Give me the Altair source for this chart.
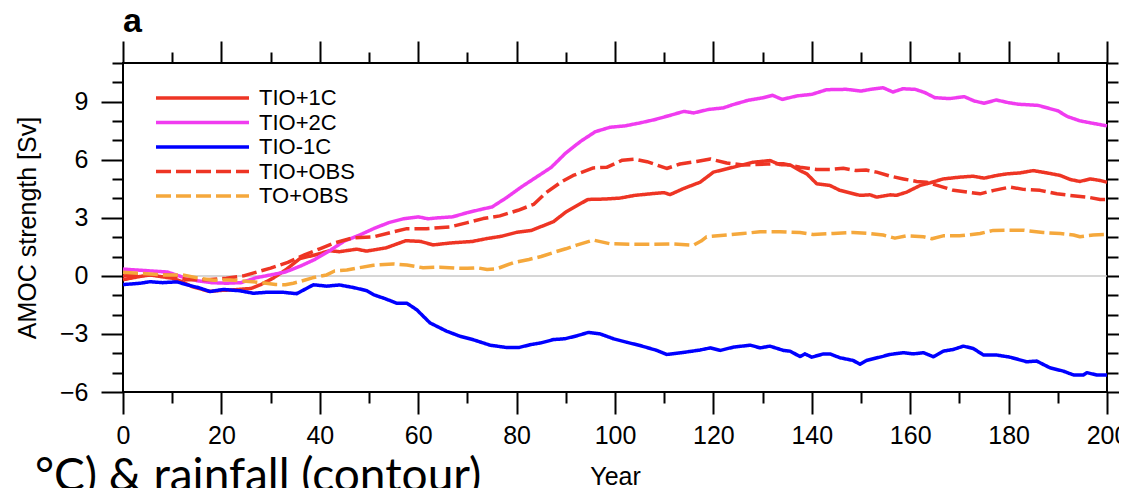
import altair as alt
import pandas as pd

# ---------------- data ----------------
series_names = ["TIO+1C", "TIO+2C", "TIO-1C", "TIO+OBS", "TO+OBS"]
series_colors = ["#EE3524", "#F03CF0", "#0000FF", "#EE3524", "#F5A83C"]
series_dash = [[1, 0], [1, 0], [1, 0], [15, 5], [15, 5]]

tio1c_year = [0, 3, 5.5, 8, 10, 12, 14, 17.5, 20, 22.5, 26, 28, 30.5, 33, 36, 39, 42, 44, 47.5, 49.5,
              53.5, 57.5, 60.5, 63, 66.5, 71, 74, 77, 80, 83, 85.5, 87.5, 90, 94.5, 98, 101, 104, 108,
              110, 111.2, 114, 117.3, 120, 122.7, 125.4, 128, 131.5, 133.5, 135.6, 137.6, 139, 141,
              143.7, 145.7, 149.8, 151.8, 153.2, 156, 157.2, 159.3, 162, 163.4, 166.7, 170, 172.8, 175,
              177.6, 179.6, 182.3, 185, 187.8, 190.5, 192.5, 194.5, 196.6, 198.6, 200]
tio1c_val = [-0.2, -0.05, 0.05, -0.05, -0.12, -0.3, -0.55, -0.8, -0.75, -0.72, -0.65, -0.45, -0.12, 0.3,
             0.9, 1.08, 1.3, 1.25, 1.38, 1.28, 1.45, 1.82, 1.78, 1.6, 1.7, 1.78, 1.93, 2.05, 2.25, 2.35,
             2.6, 2.8, 3.3, 3.95, 3.97, 4.02, 4.16, 4.26, 4.3, 4.2, 4.52, 4.84, 5.36, 5.53, 5.7, 5.87,
             5.96, 5.75, 5.73, 5.44, 5.27, 4.76, 4.67, 4.42, 4.16, 4.19, 4.07, 4.19, 4.16, 4.33, 4.67,
             4.76, 5.01, 5.1, 5.15, 5.05, 5.19, 5.27, 5.32, 5.44, 5.32, 5.19, 4.98, 4.88, 5.01, 4.93, 4.84]

tio2c_year = [0, 3, 6, 9, 12, 15, 18, 21, 24, 27, 30, 33, 36, 39, 42, 45, 48, 51, 54, 57, 60, 62, 64, 67,
              70, 73, 75, 78, 81, 84, 87, 90, 93, 96, 99, 102, 105, 108, 111, 114, 116, 119, 122, 124,
              127, 130, 132, 134, 137, 140, 143, 147, 150, 152, 154.5, 156.5, 158.5, 161, 163, 165, 168,
              171, 173, 175, 177.5, 180, 182, 186, 190, 192, 194.5, 197, 200]
tio2c_val = [0.35, 0.3, 0.25, 0.2, -0.05, -0.25, -0.35, -0.38, -0.35, -0.1, 0.05, 0.2, 0.5, 0.85, 1.3,
             1.8, 2.1, 2.45, 2.75, 2.95, 3.05, 2.95, 3.0, 3.05, 3.27, 3.45, 3.56, 4.05, 4.6, 5.1, 5.6,
             6.35, 6.95, 7.45, 7.68, 7.75, 7.9, 8.07, 8.28, 8.5, 8.42, 8.6, 8.68, 8.85, 9.07, 9.2, 9.33,
             9.12, 9.3, 9.38, 9.62, 9.64, 9.55, 9.64, 9.72, 9.5, 9.67, 9.64, 9.47, 9.21, 9.16, 9.26,
             9.04, 8.92, 9.09, 8.95, 8.87, 8.81, 8.53, 8.23, 8.01, 7.89, 7.75]

tiom1c_year = [0, 3.5, 5.5, 8, 11, 13, 15.5, 17.7, 20.4, 23.8, 26.5, 29, 32.6, 35.3, 38.7, 41.4, 44,
               46.8, 49.5, 51, 53.3, 55.6, 57.7, 59.7, 62.4, 65.8, 68.5, 71.2, 74.6, 77.9, 80.5, 82.7,
               85, 87.5, 89.8, 92.2, 94.6, 97, 99.7, 102.4, 105.1, 108.5, 110.5, 113.5, 117.3, 119.4,
               121.4, 124.1, 127.5, 129.5, 131.5, 134.2, 135.6, 137.6, 138.6, 140, 142.4, 143.7, 145.7,
               148.4, 149.8, 151.1, 153.8, 155.9, 158.6, 160.6, 162.7, 164.7, 166.7, 168.8, 170.8,
               172.8, 174.9, 177.6, 180.3, 183.7, 185.7, 188.4, 191.1, 193.2, 195.2, 195.9, 197.9, 200]
tiom1c_val = [-0.45, -0.38, -0.3, -0.35, -0.31, -0.46, -0.62, -0.81, -0.7, -0.77, -0.9, -0.85, -0.85,
              -0.92, -0.46, -0.53, -0.47, -0.6, -0.76, -0.98, -1.18, -1.41, -1.41, -1.75, -2.43, -2.86,
              -3.12, -3.3, -3.58, -3.7, -3.7, -3.56, -3.46, -3.29, -3.25, -3.1, -2.92, -3.0, -3.25,
              -3.43, -3.6, -3.85, -4.06, -3.97, -3.83, -3.72, -3.85, -3.68, -3.58, -3.72, -3.63, -3.85,
              -3.89, -4.17, -4.03, -4.2, -4.03, -4.03, -4.23, -4.37, -4.57, -4.37, -4.2, -4.06, -3.97,
              -4.03, -3.97, -4.18, -3.89, -3.8, -3.63, -3.75, -4.09, -4.09, -4.2, -4.44, -4.4, -4.75,
              -4.92, -5.12, -5.12, -5.0, -5.12, -5.12]

tioobs_year = [0, 3.5, 9.5, 13, 17, 21, 24.5, 27.5, 30, 33.5, 37, 40, 43, 46.8, 51, 55, 57.7, 61.7,
               66.5, 70, 73.2, 76.6, 80.3, 83.5, 86, 89, 91.5, 95.6, 98.3, 101.5, 104, 106.5, 108.5,
               110.5, 113.2, 116.6, 119.4, 122.7, 126, 131, 134.2, 137.6, 141, 143.7, 146.4, 149, 151,
               153.2, 156, 158.6, 161.3, 163.3, 166, 168.8, 171.5, 174.2, 177, 180.3, 183, 186.4,
               189.8, 192.5, 196, 198.6, 200]
tioobs_val = [0.0, 0.05, 0.05, -0.2, -0.2, -0.12, 0.0, 0.22, 0.4, 0.7, 1.1, 1.4, 1.7, 1.97, 2.02, 2.28,
              2.44, 2.44, 2.53, 2.75, 2.96, 3.1, 3.39, 3.7, 4.3, 4.84, 5.19, 5.58, 5.61, 5.98, 6.03,
              5.9, 5.73, 5.55, 5.78, 5.91, 6.04, 5.83, 5.73, 5.78, 5.8, 5.61, 5.5, 5.5, 5.56, 5.44,
              5.47, 5.36, 5.15, 5.01, 4.88, 4.84, 4.64, 4.42, 4.33, 4.24, 4.42, 4.59, 4.47, 4.42,
              4.24, 4.16, 4.07, 3.95, 3.95]

toobs_year = [0, 3.5, 8, 12, 15.5, 18.4, 21.7, 24, 27.5, 31, 33, 34.6, 36, 38.5, 41.4, 43, 45.5, 47.5,
              50.9, 54.9, 57.7, 61, 64.4, 67.8, 70, 72, 74, 76, 79.3, 82.5, 85, 88, 90, 92.2, 95.6, 99,
              103, 107.5, 111.5, 116, 117.5, 118.6, 122.7, 126, 129.5, 133.5, 137.6, 140.3, 144.4,
              148.4, 151.8, 154.5, 156.9, 159.3, 162.7, 164.4, 166.7, 170, 174.2, 176.9, 183, 187,
              190.5, 193.2, 194.5, 197.2, 200]
toobs_val = [0.19, 0.13, 0.05, 0.05, -0.12, -0.23, -0.21, -0.26, -0.33, -0.45, -0.46, -0.38, -0.29,
             -0.1, 0.05, 0.25, 0.3, 0.4, 0.55, 0.62, 0.56, 0.42, 0.45, 0.4, 0.39, 0.42, 0.33, 0.37,
             0.68, 0.85, 1.0, 1.25, 1.4, 1.59, 1.85, 1.66, 1.64, 1.63, 1.65, 1.59, 1.8, 2.02, 2.11,
             2.19, 2.28, 2.28, 2.24, 2.14, 2.19, 2.24, 2.19, 2.11, 1.95, 2.07, 2.02, 1.92, 2.07, 2.07,
             2.19, 2.35, 2.36, 2.24, 2.19, 2.11, 2.02, 2.11, 2.15]

x_major = list(range(0, 201, 20))
x_minor = list(range(10, 200, 20))
y_major = [-6, -3, 0, 3, 6, 9]
y_minor = [v for v in range(-6, 12) if v % 3 != 0]

caption_fragment = "°C) & rainfall (contour)"

# ---------------- build table ----------------
rows = []
for name, ys, vs in zip(series_names,
                        [tio1c_year, tio2c_year, tiom1c_year, tioobs_year, toobs_year],
                        [tio1c_val, tio2c_val, tiom1c_val, tioobs_val, toobs_val]):
    assert len(ys) == len(vs), name
    for yr, v in zip(ys, vs):
        rows.append({"series": name, "year": yr, "value": v})
df = pd.DataFrame(rows)

FONT = "Liberation Sans"
xscale = alt.Scale(domain=[0, 200], nice=False, zero=False)
yscale = alt.Scale(domain=[-6, 11], nice=False, zero=False)


def axis(orient, values, size, labels=False, title=None, **kw):
    return alt.Axis(orient=orient, values=values, tickSize=size, tickWidth=2, tickColor="black",
                    labels=labels, labelFlush=False, domain=False, grid=False, title=title, **kw)


legend = alt.Legend(orient="none", legendX=31, legendY=23, title=None,
                    symbolType="M-1,0H8.3", symbolSize=400, symbolStrokeWidth=3.5,
                    labelFont=FONT, labelFontSize=22, labelColor="black",
                    labelOffset=81, rowPadding=1.5, padding=0)

zero_df = pd.DataFrame({"v": [0]})
zero = alt.Chart(zero_df).mark_rule(color="#C8C8C8", strokeWidth=1.5).encode(
    y=alt.Y("v:Q", scale=yscale, axis=None))

lines = alt.Chart(df).mark_line(strokeWidth=3.5, strokeJoin="round").encode(
    x=alt.X("year:Q", scale=xscale,
            axis=axis("bottom", x_major, 22, labels=True, title="Year",
                      labelPadding=9, titlePadding=16)),
    y=alt.Y("value:Q", scale=yscale,
            axis=axis("left", y_major, 22, labels=True, title="AMOC strength [Sv]",
                      labelPadding=13, titlePadding=19)),
    color=alt.Color("series:N", scale=alt.Scale(domain=series_names, range=series_colors),
                    legend=legend, sort=series_names),
    strokeDash=alt.StrokeDash("series:N", scale=alt.Scale(domain=series_names, range=series_dash),
                              legend=legend, sort=series_names),
)


def tick_layer(xax, yax):
    return alt.Chart(df).mark_point(opacity=0).encode(
        x=alt.X("year:Q", scale=xscale, axis=xax),
        y=alt.Y("value:Q", scale=yscale, axis=yax))


minor_bl = tick_layer(axis("bottom", x_minor, 11), axis("left", y_minor, 11))
major_tr = tick_layer(axis("top", x_major, 22), axis("right", y_major, 22))
minor_tr = tick_layer(axis("top", x_minor, 11), axis("right", y_minor, 11))

caption = alt.Chart(pd.DataFrame({"t": [caption_fragment]})).mark_text(
    font="Lato", fontSize=46, align="left", baseline="alphabetic", color="black").encode(
    x=alt.value(-88), y=alt.value(428), text="t:N")

chart = alt.layer(zero, lines, minor_bl, major_tr, minor_tr, caption).resolve_axis(
    x="independent", y="independent"
).properties(
    width=984, height=329,
    padding={"left": 115, "top": 55, "right": 12, "bottom": 96},
    autosize=alt.AutoSizeParams(type="none"),
    title=alt.TitleParams("a", anchor="start", frame="group", fontSize=34, fontWeight="bold",
                          font=FONT, color="black", offset=1),
).configure_view(stroke="black", strokeWidth=2).configure_axis(
    labelFont=FONT, labelFontSize=25, labelColor="black",
    titleFont=FONT, titleFontSize=25, titleFontWeight="normal", titleColor="black",
)

chart.save("out.html", embed_options={"renderer": "svg", "actions": False})
